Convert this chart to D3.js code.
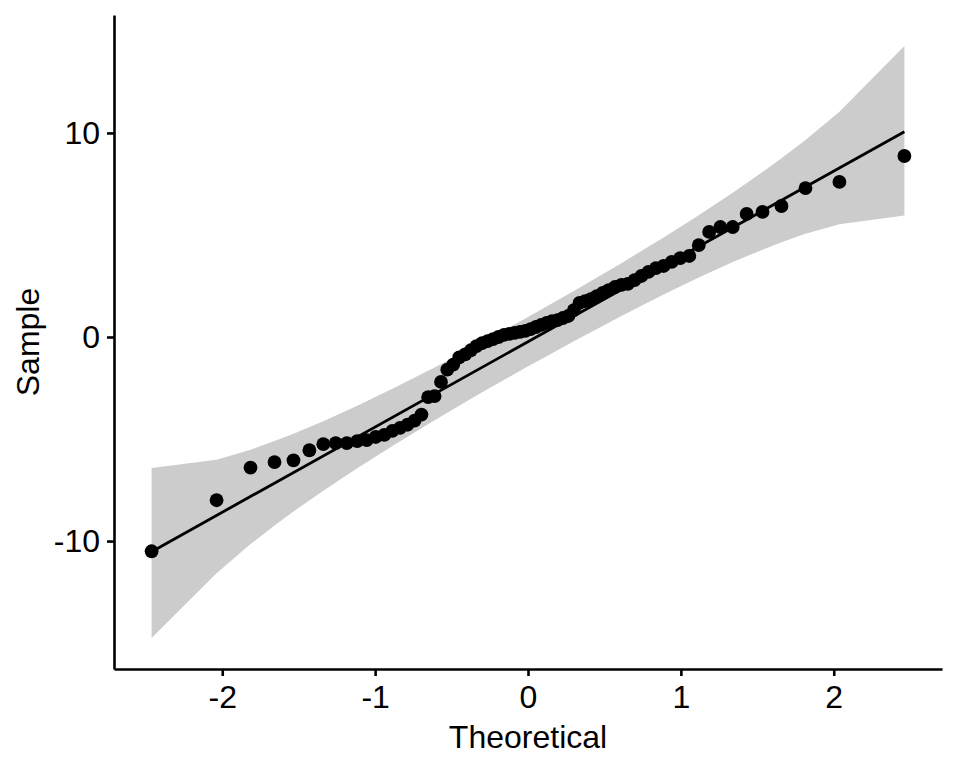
<!DOCTYPE html>
<html>
<head>
<meta charset="utf-8">
<script src="https://cdn.jsdelivr.net/npm/d3@7"></script>
<style>
  body { margin: 0; background: #fff; }
  text { font-family: "Liberation Sans", Arial, sans-serif; fill: #000; }
</style>
</head>
<body>
<div id="chart"></div>
<script>
// theoretical normal quantiles (x) and sample values (y)
var theoretical = [-2.462, -2.037, -1.815, -1.658, -1.534, -1.430, -1.339, -1.258, -1.185, -1.117,
    -1.055, -0.996, -0.940, -0.887, -0.837, -0.788, -0.742, -0.697, -0.653, -0.611,
    -0.569, -0.528, -0.489, -0.450, -0.411, -0.374, -0.337, -0.300, -0.264, -0.228,
    -0.193, -0.157, -0.122, -0.087, -0.052, -0.017,
    0.017, 0.052, 0.087, 0.122, 0.157, 0.193, 0.228, 0.264, 0.300, 0.337,
    0.374, 0.411, 0.450, 0.489, 0.528, 0.569, 0.611, 0.653, 0.697, 0.742,
    0.788, 0.837, 0.887, 0.940, 0.996, 1.055, 1.117, 1.185, 1.258, 1.339,
    1.430, 1.534, 1.658, 1.815, 2.037, 2.462];

var sample = [-10.5, -8.0, -6.4, -6.13, -6.05, -5.55, -5.25, -5.2, -5.2, -5.1,
    -5.05, -4.9, -4.8, -4.6, -4.45, -4.3, -4.1, -3.8, -2.95, -2.9,
    -2.2, -1.6, -1.35, -1.0, -0.85, -0.65, -0.45, -0.3, -0.2, -0.1,
    0.0, 0.1, 0.15, 0.2, 0.25, 0.3,
    0.39, 0.49, 0.59, 0.69, 0.78, 0.83, 0.93, 1.03, 1.32, 1.67,
    1.76, 1.86, 2.0, 2.16, 2.3, 2.45, 2.55, 2.6, 2.79, 2.99,
    3.19, 3.38, 3.48, 3.68, 3.87, 3.97, 4.5, 5.15, 5.39, 5.39,
    6.03, 6.13, 6.42, 7.3, 7.6, 8.87];

// reference line end points
var lineX = [-2.462, 2.462];
var lineY = [-10.52, 10.06];

// confidence band outline
var bandX = [-2.462, -2.037, -1.815, -1.658, -1.534, -1.339, -1.117, -0.887, -0.611, -0.300, -0.017,
    0.017, 0.300, 0.611, 0.887, 1.117, 1.339, 1.534, 1.658, 1.815, 2.037, 2.462];
var bandLow = [-14.75, -11.58, -10.15, -9.24, -8.55, -7.53, -6.43, -5.34, -4.08, -2.71, -1.51,
    -1.37, -0.21, 1.03, 2.08, 2.91, 3.67, 4.28, 4.64, 5.06, 5.53, 5.95];
var bandHigh = [-6.42, -6.02, -5.52, -5.10, -4.74, -4.13, -3.37, -2.54, -1.49, -0.25, 0.91,
    1.05, 2.25, 3.62, 4.88, 5.97, 7.07, 8.08, 8.76, 9.66, 11.04, 14.26];

var xTicks = [-2, -1, 0, 1, 2];
var yTicks = [-10, 0, 10];

var svgWidth = 960;
var svgHeight = 768;
var margin = {top: 15, right: 18, bottom: 99, left: 114};
var width = svgWidth - margin.left - margin.right;
var height = svgHeight - margin.top - margin.bottom;

var svg = d3.select("#chart")
    .append("svg")
    .attr("width", svgWidth)
    .attr("height", svgHeight);

var chartGroup = svg.append("g")
    .attr("transform", `translate(${margin.left}, ${margin.top})`);

var xScale = d3.scaleLinear()
    .domain([-2.708, 2.708])
    .range([0, width]);

var yScale = d3.scaleLinear()
    .domain([-16.27, 15.78])
    .range([height, 0]);

// confidence band
var bandData = bandX.map((x, i) => ({x: x, lo: bandLow[i], hi: bandHigh[i]}));
chartGroup.append("path")
    .datum(bandData)
    .attr("fill", "#cccccc")
    .attr("d", d3.area()
        .x(d => xScale(d.x))
        .y0(d => yScale(d.lo))
        .y1(d => yScale(d.hi)));

// reference line
chartGroup.append("line")
    .attr("x1", xScale(lineX[0]))
    .attr("y1", yScale(lineY[0]))
    .attr("x2", xScale(lineX[1]))
    .attr("y2", yScale(lineY[1]))
    .attr("stroke", "#000")
    .attr("stroke-width", 2.8);

// points
chartGroup.selectAll("circle")
    .data(theoretical)
    .enter()
    .append("circle")
    .attr("cx", d => xScale(d))
    .attr("cy", (d, i) => yScale(sample[i]))
    .attr("r", 6.9)
    .attr("fill", "#000");

// axes
var bottomAxis = d3.axisBottom(xScale)
    .tickValues(xTicks)
    .tickFormat(d3.format("d"))
    .tickSize(7)
    .tickSizeOuter(0)
    .tickPadding(9);

var leftAxis = d3.axisLeft(yScale)
    .tickValues(yTicks)
    .tickFormat(d3.format("d"))
    .tickSize(7)
    .tickSizeOuter(0)
    .tickPadding(7);

var xAxis = chartGroup.append("g")
    .attr("transform", `translate(0, ${height})`)
    .call(bottomAxis);

var yAxis = chartGroup.append("g")
    .call(leftAxis);

[xAxis, yAxis].forEach(function(ax) {
    ax.select(".domain").attr("stroke-width", 2.6);
    ax.selectAll(".tick line").attr("stroke-width", 2.6);
    ax.selectAll(".tick text")
        .attr("font-size", "32px")
        .attr("font-family", "'Liberation Sans', Arial, sans-serif")
        .attr("fill", "#000")
        .text(d => d < 0 ? "-" + Math.abs(d) : d);
});

// axis titles
svg.append("text")
    .attr("x", margin.left + width / 2)
    .attr("y", 748)
    .attr("text-anchor", "middle")
    .attr("font-size", "32px")
    .text("Theoretical");

svg.append("text")
    .attr("transform", "rotate(-90)")
    .attr("x", -(margin.top + height / 2))
    .attr("y", 39)
    .attr("text-anchor", "middle")
    .attr("font-size", "32px")
    .text("Sample");
</script>
</body>
</html>
